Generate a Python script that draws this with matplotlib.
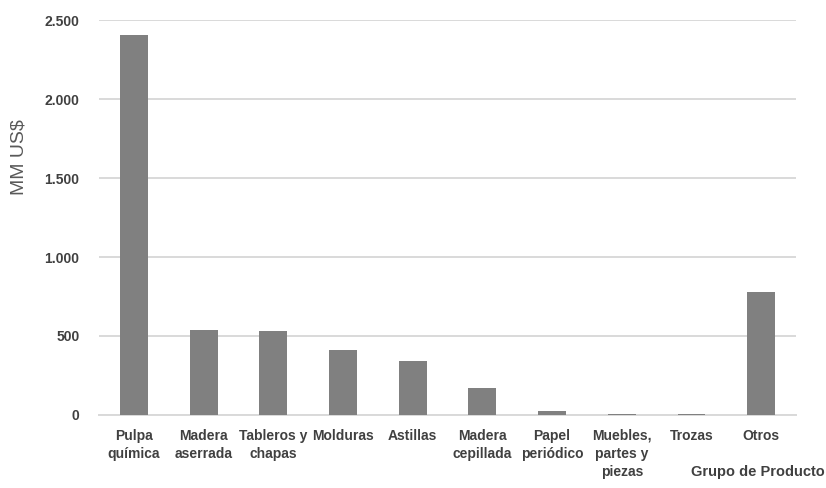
import matplotlib

matplotlib.use("Agg")
import matplotlib.pyplot as plt
from matplotlib.ticker import FuncFormatter

# Exports by product group (MM US$)
categorias = [
    "Pulpa\nquímica",
    "Madera\naserrada",
    "Tableros y\nchapas",
    "Molduras",
    "Astillas",
    "Madera\ncepillada",
    "Papel\nperiódico",
    "Muebles,\npartes y\npiezas",
    "Trozas",
    "Otros",
]
valores = [2405, 540, 532, 413, 343, 173, 28, 5, 5, 780]
yticks = [0, 500, 1000, 1500, 2000, 2500]

plt.rcParams["font.family"] = ["Liberation Sans Narrow", "Liberation Sans", "DejaVu Sans"]

fig = plt.figure(figsize=(8.26, 4.88), dpi=100)
ax = fig.add_axes([0.1199, 0.1496, 0.8438, 0.8094])

x = range(len(categorias))
ax.bar(x, valores, width=0.4, color="#808080", zorder=3)

ax.set_xlim(-0.5, len(categorias) - 0.5)
ax.set_ylim(0, 2500)
ax.set_yticks(yticks)
ax.yaxis.set_major_formatter(FuncFormatter(lambda v, p: f"{int(v):,}".replace(",", ".")))
ax.grid(axis="y", color="#d9d9d9", linewidth=1.4, zorder=0)
ax.set_xticks(list(x))
ax.set_xticklabels(categorias, fontsize=10, fontweight="bold", color="#404040",
                   linespacing=1.35, va="top")
ax.tick_params(axis="both", length=0, colors="#404040")
ax.tick_params(axis="x", pad=10)
ax.tick_params(axis="y", pad=14)
for lbl in ax.get_yticklabels():
    lbl.set_fontsize(10)
    lbl.set_fontweight("bold")

for side in ["top", "right", "left"]:
    ax.spines[side].set_visible(False)
ax.spines["bottom"].set_color("#d9d9d9")
ax.spines["bottom"].set_linewidth(1.4)

fig.text(0.023, 0.678, "MM US$", fontsize=14, color="#595959", rotation=90,
         ha="center", va="center", family=["Liberation Sans", "DejaVu Sans"])
fig.text(0.918, 0.018, "Grupo de Producto", fontsize=10.5, fontweight="bold",
         color="#404040", ha="center", va="bottom")

fig.savefig("out.png", dpi=100)
plt.close(fig)
